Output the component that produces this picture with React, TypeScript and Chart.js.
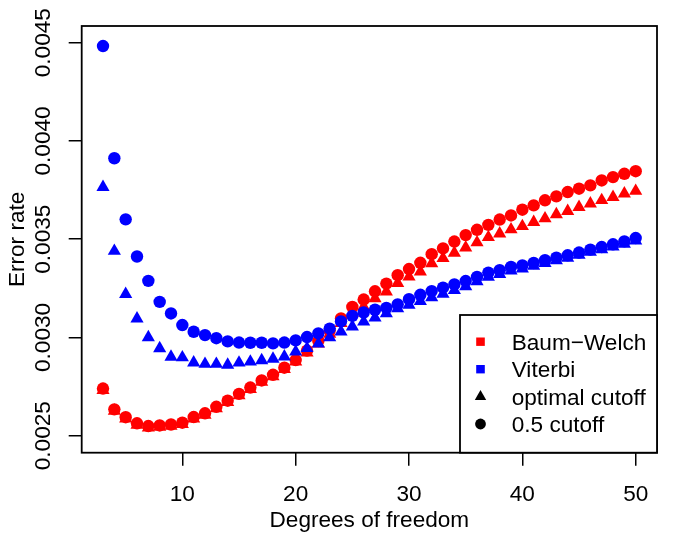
import React, { useEffect, useRef } from "react";
import { Chart, registerables } from "chart.js";

Chart.register(...registerables);

// Degrees of freedom (x values)
const degrees = [
  3, 4, 5, 6, 7, 8, 9, 10, 11, 12, 13, 14, 15, 16, 17, 18, 19, 20, 21, 22, 23, 24, 25, 26,
  27, 28, 29, 30, 31, 32, 33, 34, 35, 36, 37, 38, 39, 40, 41, 42, 43, 44, 45, 46, 47, 48, 49, 50,
];

// Baum-Welch, 0.5 cutoff (red circles)
const bwHalf = [
  0.00274, 0.002634, 0.002594, 0.002563, 0.002549, 0.002552, 0.002557, 0.002566, 0.002595, 0.002614,
  0.002647, 0.002678, 0.002713, 0.002745, 0.002781, 0.00281, 0.002846, 0.002885, 0.002933, 0.002982,
  0.003035, 0.003097, 0.003155, 0.003193, 0.003235, 0.003274, 0.003317, 0.003348, 0.00338, 0.003424,
  0.003453, 0.003488, 0.003521, 0.003548, 0.003573, 0.0036, 0.003621, 0.00365, 0.003672, 0.003698,
  0.003718, 0.00374, 0.003757, 0.003774, 0.003799, 0.003816, 0.003833, 0.003846,
];

// Baum-Welch, optimal cutoff (red triangles)
const bwOpt = [
  0.002732, 0.002626, 0.002586, 0.002555, 0.002541, 0.002544, 0.002549, 0.002558, 0.002587, 0.002606,
  0.002639, 0.00267, 0.002705, 0.002737, 0.002773, 0.002802, 0.002838, 0.002877, 0.002922, 0.002968,
  0.003018, 0.003072, 0.003123, 0.003156, 0.003199, 0.003233, 0.003276, 0.003309, 0.003335, 0.003377,
  0.003403, 0.00343, 0.003457, 0.003483, 0.00351, 0.003528, 0.003549, 0.003566, 0.003587, 0.003605,
  0.003626, 0.003643, 0.003663, 0.003681, 0.003698, 0.003714, 0.003732, 0.003745,
];

// Viterbi, 0.5 cutoff (blue circles)
const vitHalf = [
  0.004483, 0.003912, 0.003601, 0.003412, 0.003288, 0.003181, 0.003122, 0.003063, 0.003029, 0.003012,
  0.002996, 0.00298, 0.002974, 0.002973, 0.002973, 0.00297, 0.002974, 0.002985, 0.003002, 0.003021,
  0.003045, 0.003082, 0.00311, 0.003127, 0.003141, 0.00315, 0.003168, 0.003195, 0.003217, 0.003236,
  0.003253, 0.00327, 0.003287, 0.003308, 0.00333, 0.003342, 0.003359, 0.003367, 0.003379, 0.003393,
  0.003406, 0.003418, 0.003432, 0.003447, 0.00346, 0.003474, 0.003489, 0.003506,
];

// Viterbi, optimal cutoff (blue triangles)
const vitOpt = [
  0.003765, 0.00344, 0.00322, 0.003096, 0.003, 0.002944, 0.002901, 0.002898, 0.002872, 0.002865,
  0.002865, 0.00286, 0.002871, 0.002876, 0.002883, 0.002891, 0.002902, 0.002927, 0.002945, 0.002968,
  0.003, 0.003029, 0.003055, 0.00308, 0.0031, 0.003122, 0.003147, 0.003166, 0.003185, 0.003204,
  0.003222, 0.00324, 0.00326, 0.003285, 0.003308, 0.003322, 0.00334, 0.00335, 0.003364, 0.003378,
  0.003392, 0.003405, 0.00342, 0.003435, 0.003448, 0.003462, 0.003476, 0.003492,
];

const xTicks = [10, 20, 30, 40, 50];
const xTickLabels = ["10", "20", "30", "40", "50"];
const yTicks = [0.0025, 0.003, 0.0035, 0.004, 0.0045];
const yTickLabels = ["0.0025", "0.0030", "0.0035", "0.0040", "0.0045"];
const xTitle = "Degrees of freedom";
const yTitle = "Error rate";
const legendLabels = ["Baum\u2212Welch", "Viterbi", "optimal cutoff", "0.5 cutoff"];

const RED = "#FF0000";
const BLUE = "#0000FF";
const FONT_SIZE = 22.6;
const FONT = `${FONT_SIZE}px "Liberation Sans", Arial, Helvetica, sans-serif`;

const toPoints = (ys: number[]) => degrees.map((d, i) => ({ x: d, y: ys[i] }));

const framePlugin = {
  id: "rframe",
  afterDraw(chart: any) {
    const { ctx, chartArea: a, scales } = chart;
    const xs = scales.x;
    const ys = scales.y;
    const capHalf = FONT_SIZE * 0.358;
    ctx.save();
    // plot box
    ctx.strokeStyle = "#000";
    ctx.lineWidth = 1.8;
    ctx.strokeRect(a.left, a.top, a.right - a.left, a.bottom - a.top);

    ctx.fillStyle = "#000";
    ctx.font = FONT;
    ctx.textAlign = "center";
    ctx.textBaseline = "alphabetic";
    // x tick labels
    xTicks.forEach((v, i) => {
      ctx.fillText(xTickLabels[i], xs.getPixelForValue(v), a.bottom + 40.6 + capHalf);
    });
    // x title
    ctx.fillText(xTitle, (a.left + a.right) / 2, a.bottom + 66.5 + capHalf);
    // y tick labels (rotated)
    yTicks.forEach((v, i) => {
      const y = ys.getPixelForValue(v);
      ctx.save();
      ctx.translate(a.left - 40 + capHalf, y);
      ctx.rotate(-Math.PI / 2);
      ctx.fillText(yTickLabels[i], 0, 0);
      ctx.restore();
    });
    // y title
    ctx.save();
    ctx.translate(a.left - 65.9 + capHalf, (a.top + a.bottom) / 2);
    ctx.rotate(-Math.PI / 2);
    ctx.fillText(yTitle, 0, 0);
    ctx.restore();

    // legend (bottom-right)
    const lw = 197;
    const lh = 137.7;
    const lx = a.right - lw;
    const ly = a.bottom - lh;
    ctx.fillStyle = "#fff";
    ctx.fillRect(lx, ly, lw, lh);
    ctx.strokeStyle = "#000";
    ctx.lineWidth = 1.8;
    ctx.strokeRect(lx, ly, lw, lh);
    const rowY = [26.7, 54.2, 81.6, 109];
    const symX = lx + 20.5;
    const textX = lx + 51.7;
    ctx.textAlign = "left";
    legendLabels.forEach((lab, i) => {
      const cy = ly + rowY[i];
      if (i === 0 || i === 1) {
        ctx.fillStyle = i === 0 ? RED : BLUE;
        ctx.fillRect(symX - 4.3, cy - 4.2, 8.6, 8.4);
      } else if (i === 2) {
        ctx.fillStyle = "#000";
        const r = 6.6;
        ctx.beginPath();
        ctx.moveTo(symX, cy - r);
        ctx.lineTo(symX + r * 0.866, cy + r / 2);
        ctx.lineTo(symX - r * 0.866, cy + r / 2);
        ctx.closePath();
        ctx.fill();
      } else {
        ctx.fillStyle = "#000";
        ctx.beginPath();
        ctx.arc(symX, cy, 5.4, 0, Math.PI * 2);
        ctx.fill();
      }
      ctx.fillStyle = "#000";
      ctx.fillText(lab, textX, cy + capHalf);
    });
    ctx.restore();
  },
};

export default function App() {
  const canvasRef = useRef<HTMLCanvasElement | null>(null);

  useEffect(() => {
    const canvas = canvasRef.current;
    if (!canvas) return;
    const mk = (label: string, ys: number[], color: string, style: string, r: number, order: number) => ({
      label,
      data: toPoints(ys),
      pointStyle: style,
      pointRadius: r,
      pointHoverRadius: r,
      pointBorderWidth: 0,
      backgroundColor: color,
      borderColor: color,
      showLine: false,
      order,
    });
    const chart = new Chart(canvas, {
      type: "scatter",
      data: {
        datasets: [
          mk("Baum-Welch optimal cutoff", bwOpt, RED, "triangle", 7.6, 4),
          mk("Baum-Welch 0.5 cutoff", bwHalf, RED, "circle", 6.2, 3),
          mk("Viterbi optimal cutoff", vitOpt, BLUE, "triangle", 7.6, 2),
          mk("Viterbi 0.5 cutoff", vitHalf, BLUE, "circle", 6.2, 1),
        ],
      },
      options: {
        responsive: false,
        animation: false,
        devicePixelRatio: 1,
        layout: { padding: { left: 0, top: 26, right: 28, bottom: 0 } },
        plugins: {
          legend: { display: false },
          tooltip: { enabled: false },
          title: { display: false },
        },
        scales: {
          x: {
            type: "linear",
            position: "bottom",
            min: 1.12,
            max: 51.88,
            afterBuildTicks: (s: any) => {
              s.ticks = xTicks.map((v) => ({ value: v }));
            },
            afterFit: (s: any) => {
              s.height = 548 - 452.7;
            },
            ticks: { display: false },
            grid: {
              display: true,
              drawOnChartArea: false,
              drawTicks: true,
              tickLength: 13,
              color: "#000",
              lineWidth: 1.5,
            },
            border: { display: false },
          },
          y: {
            type: "linear",
            position: "left",
            min: 0.0024135,
            max: 0.004585,
            afterBuildTicks: (s: any) => {
              s.ticks = yTicks.map((v) => ({ value: v }));
            },
            afterFit: (s: any) => {
              s.width = 81.7;
            },
            ticks: { display: false },
            grid: {
              display: true,
              drawOnChartArea: false,
              drawTicks: true,
              tickLength: 13,
              color: "#000",
              lineWidth: 1.5,
            },
            border: { display: false },
          },
        },
      } as any,
      plugins: [framePlugin],
    });
    return () => chart.destroy();
  }, []);

  return (
    <div style={{ position: "fixed", left: 0, top: 0, width: 685, height: 548, background: "#fff" }}>
      <canvas ref={canvasRef} width={685} height={548} style={{ width: 685, height: 548, display: "block" }} />
    </div>
  );
}
